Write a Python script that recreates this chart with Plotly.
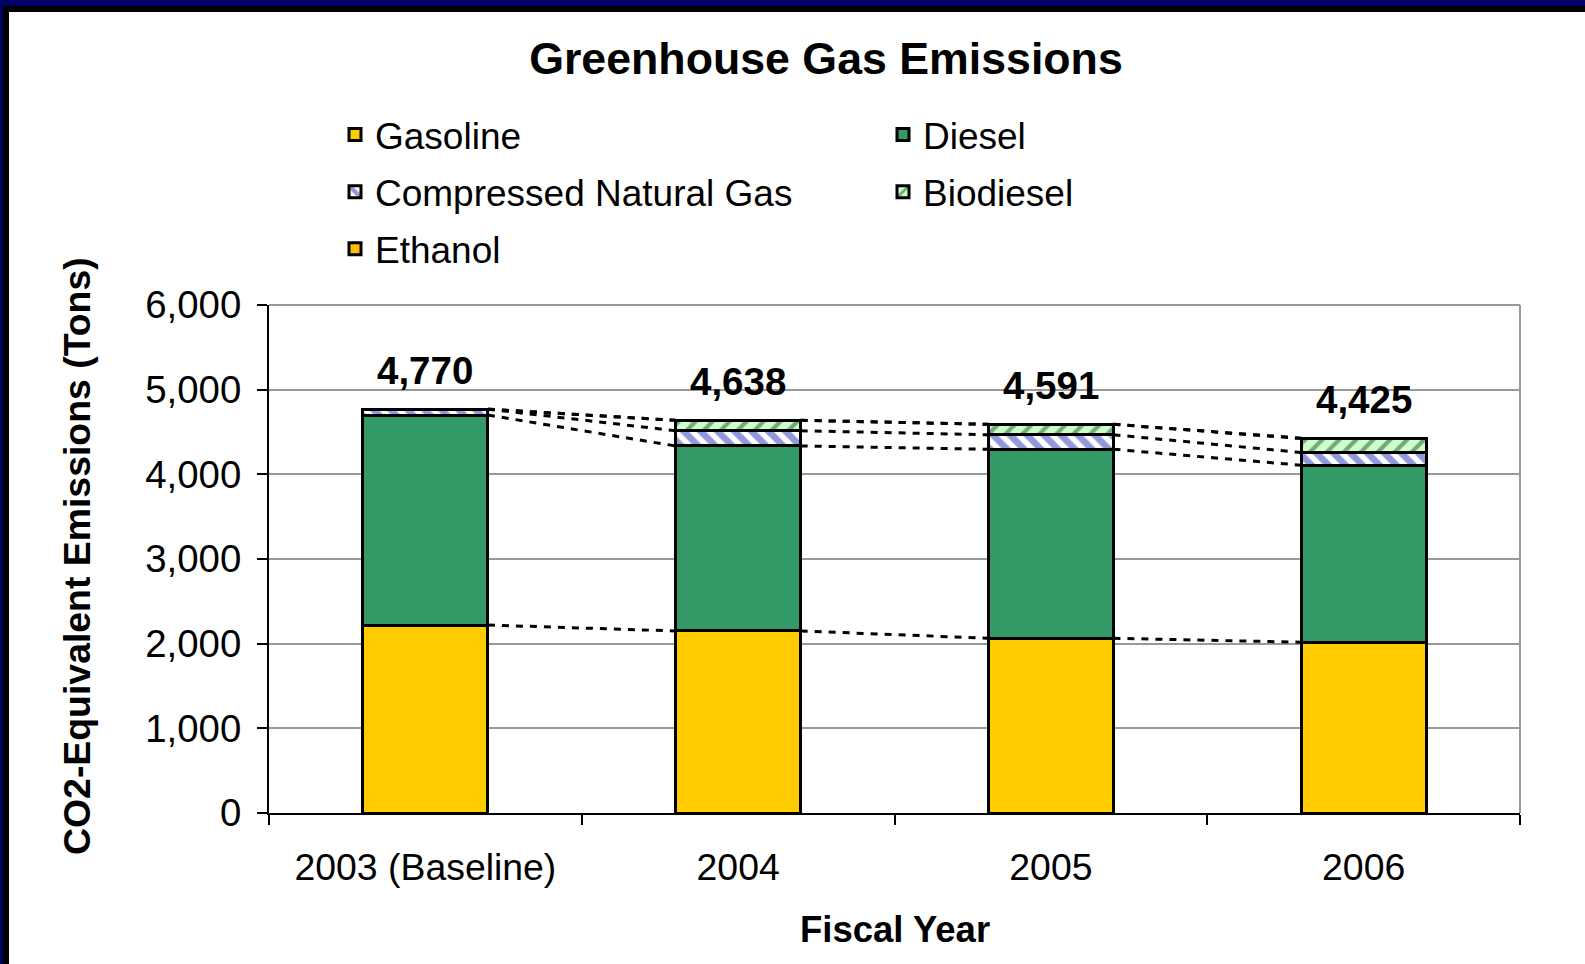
import plotly.graph_objects as go

# ---------------- data ----------------
years = ["2003 (Baseline)", "2004", "2005", "2006"]
gasoline = [2220, 2150, 2064, 2017]
diesel = [2480, 2185, 2232, 2091]
cng = [70, 180, 171, 150]
biodiesel = [0, 123, 124, 167]
ethanol = [0, 0, 0, 0]
y_ticks = [0, 1000, 2000, 3000, 4000, 5000, 6000]
series_names = ["Gasoline", "Diesel", "Compressed Natural Gas", "Biodiesel", "Ethanol"]

# ---------------- geometry ----------------
W, H = 1585, 964
L, R, T, B = 269, 65, 305, 151
PW = W - L - R
PH = H - T - B


def px_x(px):
    return (px - L) / PW


def px_y(py):
    return (H - B - py) / PH


FONT = "Liberation Sans, Arial, sans-serif"
BAR_W = 0.4

styles = {
    "Gasoline": dict(color="#FFCC00"),
    "Diesel": dict(color="#339966"),
    "Compressed Natural Gas": dict(color="#2236B5",
                                   pattern=dict(shape="\\", bgcolor="white", fgcolor="#2236B5",
                                                size=12, solidity=0.55)),
    "Biodiesel": dict(color="#1F4F1F",
                      pattern=dict(shape="/", bgcolor="#CCFFCC", fgcolor="#1F4F1F",
                                   size=12, solidity=0.35)),
    "Ethanol": dict(color="#FF9900",
                    pattern=dict(shape="|", bgcolor="#FFCC00", fgcolor="#FF9900",
                                 size=6, solidity=0.5)),
}
legend_of = {"Gasoline": "legend", "Compressed Natural Gas": "legend", "Ethanol": "legend",
             "Diesel": "legend2", "Biodiesel": "legend2"}
values = [gasoline, diesel, cng, biodiesel, ethanol]

fig = go.Figure()

# stacked bars
for name, vals in zip(series_names, values):
    fig.add_trace(go.Bar(
        x=years, y=vals, name=name, width=BAR_W,
        marker=dict(**styles[name], line=dict(color="black", width=3)),
        legend=legend_of[name], legendgroup=name,
        hoverinfo="skip",
    ))

# series lines (dotted connectors between bar tops)
cum = [0] * len(years)
for name, vals in zip(series_names, values):
    cum = [c + v for c, v in zip(cum, vals)]
    xs, ys = [], []
    for i in range(len(years) - 1):
        xs += [i + BAR_W / 2, i + 1 - BAR_W / 2, None]
        ys += [cum[i], cum[i + 1], None]
    fig.add_trace(go.Scatter(
        x=xs, y=ys, mode="lines", xaxis="x2", yaxis="y",
        line=dict(color="black", width=3, dash="7px,7px"),
        showlegend=False, hoverinfo="skip",
    ))

totals = [sum(v) for v in zip(*values)]
annotations = []
for i, tot in enumerate(totals):
    annotations.append(dict(
        x=i, y=tot, xref="x2", yref="y", text="<b>{:,}</b>".format(tot),
        showarrow=False, xanchor="center", yanchor="middle", yshift=39,
        font=dict(family=FONT, size=38.5, color="black"),
    ))
annotations.append(dict(
    x=px_x(77), y=px_y(556), xref="paper", yref="paper",
    xanchor="center", yanchor="middle",
    text="<b>CO2-Equivalent Emissions (Tons)</b>", textangle=-90, showarrow=False,
    font=dict(family=FONT, size=37.4, color="black"),
))
annotations.append(dict(
    x=0.5, y=px_y(929), xref="paper", yref="paper",
    xanchor="center", yanchor="middle",
    text="<b>Fiscal Year</b>", showarrow=False,
    font=dict(family=FONT, size=36.5, color="black"),
))

shapes = [
    # frame
    dict(type="rect", xref="paper", yref="paper", x0=px_x(0), x1=px_x(W), y0=px_y(0), y1=px_y(6),
         fillcolor="#000066", line=dict(width=0), layer="above"),
    dict(type="rect", xref="paper", yref="paper", x0=px_x(3), x1=px_x(W), y0=px_y(6), y1=px_y(12),
         fillcolor="black", line=dict(width=0), layer="above"),
    dict(type="rect", xref="paper", yref="paper", x0=px_x(0), x1=px_x(3), y0=px_y(0), y1=px_y(H),
         fillcolor="#000066", line=dict(width=0), layer="above"),
    dict(type="rect", xref="paper", yref="paper", x0=px_x(3), x1=px_x(9), y0=px_y(6), y1=px_y(H),
         fillcolor="black", line=dict(width=0), layer="above"),
    # plot-area border top and right (gray)
    dict(type="line", xref="paper", yref="paper", x0=0, x1=1, y0=1, y1=1,
         line=dict(color="#999999", width=2), layer="below"),
    dict(type="line", xref="paper", yref="paper", x0=1, x1=1, y0=0, y1=1,
         line=dict(color="#999999", width=2), layer="below"),
]

legend_common = dict(
    xanchor="left", yanchor="top", orientation="v",
    font=dict(family=FONT, size=37, color="black"),
    traceorder="grouped", tracegroupgap=6, bgcolor="rgba(0,0,0,0)",
    itemclick=False, itemdoubleclick=False,
)

fig.update_layout(
    width=W, height=H,
    margin=dict(l=L, r=R, t=T, b=B, autoexpand=False),
    paper_bgcolor="white", plot_bgcolor="white",
    barmode="stack",
    font=dict(family=FONT, color="black"),
    title=dict(text="<b>Greenhouse Gas Emissions</b>", x=826 / W, y=1 - 58.5 / H,
               xref="container", yref="container", xanchor="center", yanchor="middle",
               font=dict(family=FONT, size=44.7, color="black")),
    xaxis=dict(type="category", range=[-0.5, 3.5], tickson="boundaries",
               ticks="outside", ticklen=10, tickwidth=2, tickcolor="black",
               showline=True, linecolor="black", linewidth=2, showgrid=False,
               tickfont=dict(family=FONT, size=37.4, color="black"), ticklabelstandoff=20),
    xaxis2=dict(overlaying="x", range=[-0.5, 3.5], visible=False, showgrid=False),
    yaxis=dict(range=[0, 6000], tickvals=y_ticks, ticktext=["{:,}".format(v) for v in y_ticks],
               ticks="outside", ticklen=10, tickwidth=2, tickcolor="black",
               showline=True, linecolor="black", linewidth=2,
               showgrid=True, gridcolor="#999999", gridwidth=2, zeroline=False,
               tickfont=dict(family=FONT, size=38.4, color="black"), ticklabelstandoff=8),
    legend=dict(x=px_x(335), y=px_y(104), **legend_common),
    legend2=dict(x=px_x(883), y=px_y(104), **legend_common),
    annotations=annotations,
    shapes=shapes,
    showlegend=True,
)

fig.write_html(
    "out.html",
    config={"displayModeBar": False, "staticPlot": True},
    post_script=("document.documentElement.style.margin='0px';"
                 "document.body.style.margin='0px';"
                 "document.documentElement.style.overflow='hidden';"
                 "document.body.style.overflow='hidden';"),
)
